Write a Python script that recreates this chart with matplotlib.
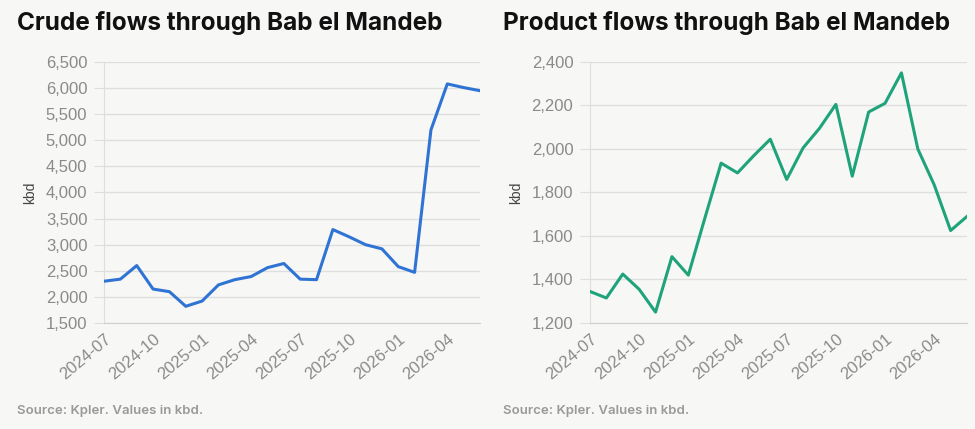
import matplotlib
matplotlib.use('Agg')
from matplotlib import pyplot as plt
import numpy as np

months = ['2024-07', '2024-08', '2024-09', '2024-10', '2024-11', '2024-12',
          '2025-01', '2025-02', '2025-03', '2025-04', '2025-05', '2025-06',
          '2025-07', '2025-08', '2025-09', '2025-10', '2025-11', '2025-12',
          '2026-01', '2026-02', '2026-03', '2026-04', '2026-05', '2026-06']

crude = [2300, 2340, 2600, 2150, 2100, 1820, 1920, 2230, 2330, 2390, 2560, 2640,
         2340, 2330, 3290, 3150, 3000, 2920, 2580, 2470, 5200, 6080, 6010, 5950]

product = [1345, 1315, 1425, 1355, 1250, 1505, 1420, 1680, 1935, 1890, 1970, 2045,
           1860, 2005, 2095, 2205, 1875, 2170, 2210, 2350, 2000, 1835, 1625, 1690]

crude_ticks = [1500, 2000, 2500, 3000, 3500, 4000, 4500, 5000, 5500, 6000, 6500]
product_ticks = [1200, 1400, 1600, 1800, 2000, 2200, 2400]

bg = '#f7f7f5'
tick_font = 'Liberation Sans'
title_font = 'Inter'

fig = plt.figure(figsize=(9.75, 4.29), dpi=100)
fig.patch.set_facecolor(bg)


def draw(ax, values, yticks, color, title, x0):
    x = np.arange(len(values))
    ax.set_facecolor(bg)
    ax.plot(x, values, color=color, linewidth=2.2, solid_joinstyle='round', zorder=3)
    ax.set_xlim(0, len(values) - 1)
    ax.set_ylim(yticks[0], yticks[-1])
    ax.set_yticks(yticks)
    ax.set_yticklabels(['{:,}'.format(v) for v in yticks])
    xt = list(range(0, len(months), 3))
    ax.set_xticks(xt)
    ax.set_xticklabels([months[i] for i in xt], rotation=40, ha='right',
                       rotation_mode='anchor')
    ax.grid(axis='y', color='#dedede', linewidth=1)
    ax.set_axisbelow(True)
    for s in ['top', 'right']:
        ax.spines[s].set_visible(False)
    ax.spines['left'].set_color('#dedede')
    ax.spines['bottom'].set_color('#cfcfcf')
    ax.tick_params(axis='y', length=7, color='#dedede', pad=5,
                   labelsize=12, labelcolor='#8a8a8a')
    ax.tick_params(axis='x', length=0, pad=6, labelsize=12, labelcolor='#8a8a8a')
    for lab in ax.get_xticklabels() + ax.get_yticklabels():
        lab.set_fontfamily(tick_font)
    ax.set_ylabel('kbd', fontsize=10, color='#444444', family=tick_font, labelpad=6)
    fig.text(x0, 0.947, title, fontsize=17.5, fontweight='bold', family=title_font,
             color='#111111', va='center')
    fig.text(x0, 0.043, 'Source: Kpler. Values in kbd.', fontsize=9.5,
             fontweight='semibold', family=title_font, color='#999999', va='center')


ax1 = fig.add_axes([0.1067, 0.2471, 0.3856, 0.6084])
draw(ax1, crude, crude_ticks, '#2f74d4', 'Crude flows through Bab el Mandeb', 0.017)

ax2 = fig.add_axes([0.6051, 0.2471, 0.3867, 0.6084])
draw(ax2, product, product_ticks, '#1fa37a', 'Product flows through Bab el Mandeb', 0.516)

plt.savefig('out.png', dpi=100, facecolor=bg)
